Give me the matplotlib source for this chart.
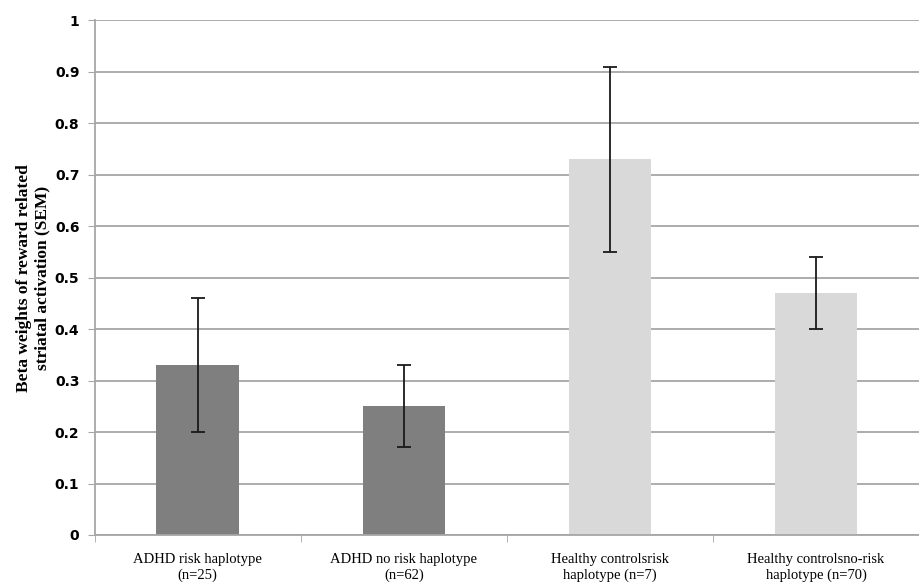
import numpy as np
import matplotlib.pyplot as plt

# Data
categories = ['ADHD risk haplotype\n(n=25)', 'ADHD no risk haplotype\n(n=62)',
              'Healthy controlsrisk\nhaplotype (n=7)', 'Healthy controlsno-risk\nhaplotype (n=70)']
means = [0.33, 0.25, 0.73, 0.47]
err_low = [0.20, 0.17, 0.55, 0.40]
err_high = [0.46, 0.33, 0.91, 0.54]
bar_colors = ['#7f7f7f', '#7f7f7f', '#d9d9d9', '#d9d9d9']

x = np.arange(len(categories))
yerr = [np.array(means) - np.array(err_low), np.array(err_high) - np.array(means)]

fig = plt.figure(figsize=(9.19, 5.87), dpi=100)
ax = fig.add_axes([0.103, 0.0886, 0.897, 0.877])

ax.bar(x, means, width=0.4, color=bar_colors, zorder=2)
ax.errorbar(x, means, yerr=yerr, fmt='none', ecolor='#1a1a1a', elinewidth=1.3,
            capsize=5, capthick=1.3, zorder=3)

ax.set_xlim(-0.5, 3.5)
ax.set_ylim(0, 1)
ax.set_yticks(np.arange(0, 1.01, 0.1))
ax.set_yticklabels(['0', '0.1', '0.2', '0.3', '0.4', '0.5', '0.6', '0.7', '0.8', '0.9', '1'],
                   fontsize=10, fontweight='bold', family='DejaVu Sans')
ax.yaxis.grid(True, color='#a6a6a6', lw=1.3, zorder=0)
ax.set_axisbelow(True)

ax.set_xticks(x)
ax.set_xticklabels(categories, fontsize=10.5, family='Liberation Serif', linespacing=1.25)
ax.set_xticks(np.arange(-0.5, 3.6, 1), minor=True)
ax.tick_params(axis='x', which='major', length=0, pad=13)
ax.tick_params(axis='x', which='minor', length=5, color='#a6a6a6')
ax.tick_params(axis='y', length=5, color='#a6a6a6', pad=6)

for s in ['top', 'right']:
    ax.spines[s].set_visible(False)
for s in ['left', 'bottom']:
    ax.spines[s].set_color('#a6a6a6')
    ax.spines[s].set_linewidth(1.3)

ax.set_ylabel('Beta weights of reward related\nstriatal activation (SEM)', fontsize=12.5,
              fontweight='bold', family='Liberation Serif', labelpad=3)

fig.savefig('out.png', dpi=100)
